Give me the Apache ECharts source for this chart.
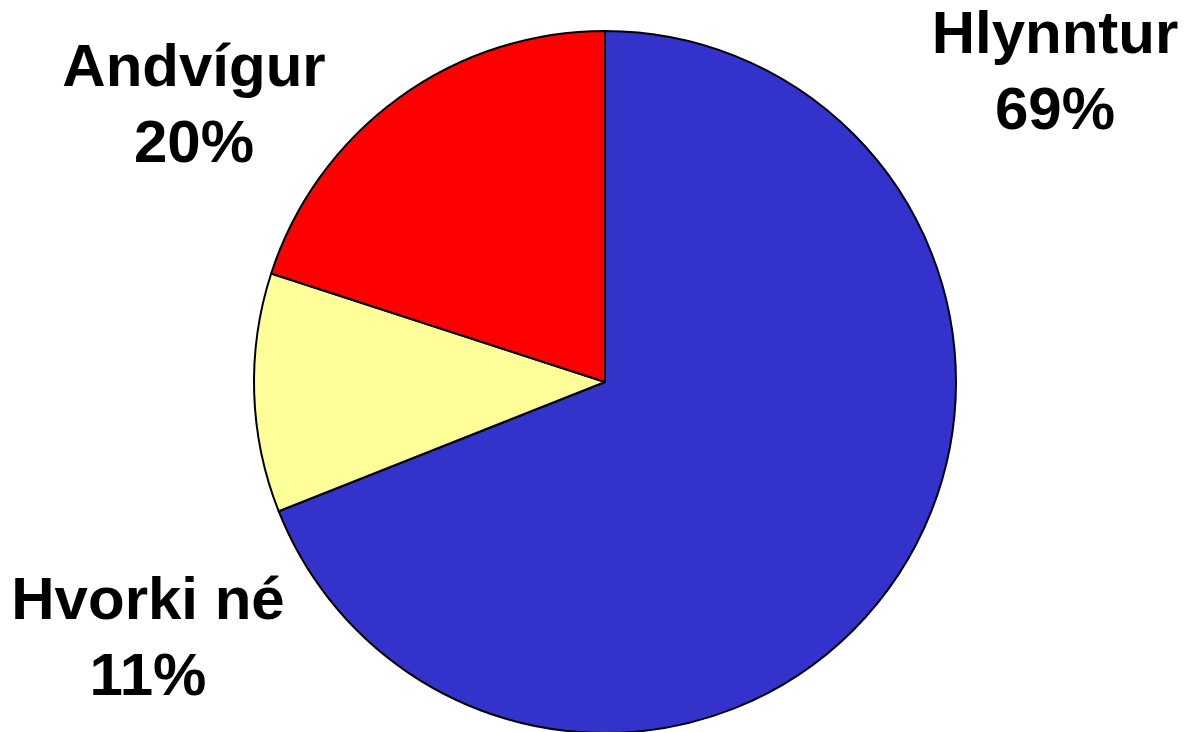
<!DOCTYPE html>
<html>
<head>
<meta charset="utf-8">
<script src="https://cdn.jsdelivr.net/npm/echarts@6/dist/echarts.min.js"></script>
<style>
  html, body { margin: 0; padding: 0; background: #fff; }
  #chart { width: 1185px; height: 732px; }
</style>
</head>
<body>
<div id="chart"></div>
<script>
var flokkar = ["Hlynntur", "Hvorki né", "Andvígur"];
var gildi = [69, 11, 20];
var litir = ["#3333CC", "#FFFF99", "#FF0000"];

// hvar textinn fyrir hverja sneið lendir
var textaStadir = [
  { x: 1055, y: 74 },
  { x: 148, y: 640 },
  { x: 194, y: 107 }
];

var gogn = [];
for (var i = 0; i < flokkar.length; i++) {
  gogn.push({ name: flokkar[i], value: gildi[i], itemStyle: { color: litir[i] } });
}

var option = {
  animation: false,
  series: [
    {
      type: "pie",
      center: [605, 382],
      radius: 351,
      startAngle: 90,
      clockwise: true,
      itemStyle: { borderColor: "#000", borderWidth: 2 },
      label: {
        show: true,
        position: "outside",
        formatter: "{b}\n{d}%",
        fontFamily: "Liberation Sans, Arial, sans-serif",
        fontWeight: "bold",
        fontSize: 60,
        lineHeight: 76,
        color: "#000",
        align: "center",
        overflow: "none",
        width: 400
      },
      labelLine: { show: false },
      labelLayout: function (params) {
        var p = textaStadir[params.dataIndex];
        return { x: p.x, y: p.y, align: "center", verticalAlign: "middle" };
      },
      emphasis: { disabled: true },
      data: gogn
    }
  ]
};

var chartDom = document.getElementById("chart");
var myChart = echarts.init(chartDom);
myChart.setOption(option);
</script>
</body>
</html>
